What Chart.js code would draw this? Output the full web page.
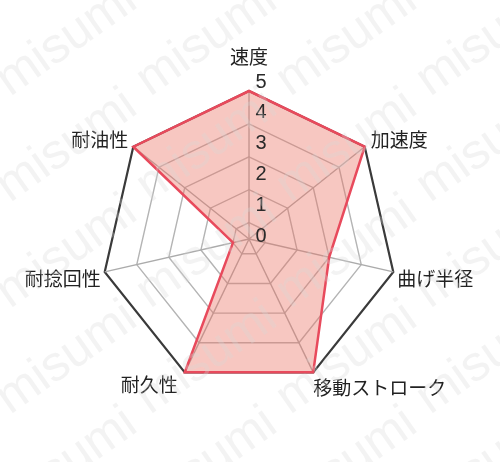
<!DOCTYPE html>
<html lang="ja">
<head>
<meta charset="utf-8">
<title>性能レーダーチャート</title>
<script src="https://cdn.jsdelivr.net/npm/chart.js@4.4.1/dist/chart.umd.min.js"></script>
<style>
  html, body { margin: 0; padding: 0; background: #fff; }
  #wrap { width: 500px; height: 462px; position: relative; }
</style>
</head>
<body>
<div id="wrap"><canvas id="radarChart"></canvas></div>
<script>
// 評価項目（上から時計回り）
const categories = ['速度', '加速度', '曲げ半径', '移動ストローク', '耐久性', '耐捻回性', '耐油性'];
// 評価値
const scores = [5, 5, 3, 5, 5, 1, 5];
// 目盛りラベル
const tickLabels = ['0', '1', '2', '3', '4', '5'];
const watermarkText = 'misumi';

const JP_FONT = '"Noto Sans CJK JP", "Noto Sans", sans-serif';

// ラベルの置き方（頂点からのずれ）
const labelPlacement = [
  { dx: 0,  dy: -34, align: 'center' },
  { dx: 6,  dy: -7,  align: 'left' },
  { dx: 4,  dy: 7,   align: 'left' },
  { dx: 0,  dy: 15,  align: 'left' },
  { dx: -7, dy: 12,  align: 'right' },
  { dx: -4, dy: 7,   align: 'right' },
  { dx: -5, dy: -7,  align: 'right' }
];

// 項目名と目盛り数字を描く
const labelPlugin = {
  id: 'radarLabels',
  afterDatasetsDraw(chart) {
    const scale = chart.scales.r;
    const ctx = chart.ctx;
    ctx.save();
    ctx.fillStyle = '#222';
    ctx.textBaseline = 'middle';
    ctx.font = '19px ' + JP_FONT;
    categories.forEach((name, i) => {
      const p = scale.getPointPosition(i, scale.drawingArea);
      const o = labelPlacement[i];
      ctx.textAlign = o.align;
      ctx.fillText(name, p.x + o.dx, p.y + o.dy);
    });

    // 数字は軸の右側に並べる
    ctx.font = '20px "Liberation Sans", Arial, sans-serif';
    ctx.textAlign = 'center';
    ctx.fillStyle = '#2a2a2a';
    const step = (scale.drawingArea + 6) / (tickLabels.length - 1);
    tickLabels.forEach((t, v) => {
      ctx.fillText(t, scale.xCenter + 12, scale.yCenter - 3 - v * step);
    });
    ctx.restore();
  }
};

// 透かし文字
const watermarkPlugin = {
  id: 'watermark',
  afterDraw(chart) {
    const ctx = chart.ctx;
    ctx.save();
    ctx.font = '50px "Liberation Sans", Arial, sans-serif';
    ctx.fillStyle = 'rgba(215, 215, 215, 0.3)';
    ctx.textAlign = 'left';
    ctx.textBaseline = 'alphabetic';
    for (let j = -1; j < 5; j++) {
      for (let i = -1; i < 5; i++) {
        ctx.save();
        ctx.translate(10 + i * 140, 97 + j * 106);
        ctx.rotate(-35 * Math.PI / 180);
        ctx.fillText(watermarkText, 0, 0);
        ctx.restore();
      }
    }
    ctx.restore();
  }
};

const ctx = document.getElementById('radarChart').getContext('2d');
new Chart(ctx, {
  type: 'radar',
  data: {
    labels: categories,
    datasets: [{
      data: scores,
      borderColor: '#e84a5c',
      borderWidth: 2.5,
      backgroundColor: 'rgba(235, 115, 100, 0.4)',
      pointRadius: 0,
      fill: true
    }]
  },
  options: {
    responsive: true,
    maintainAspectRatio: false,
    animation: false,
    layout: { padding: { top: 91, bottom: 74, left: 101, right: 102 } },
    plugins: {
      legend: { display: false },
      tooltip: { enabled: false }
    },
    scales: {
      r: {
        // 原図では「1」の輪が中心のすぐ外にある
        min: 0.5,
        max: 5,
        ticks: { display: false, stepSize: 1 },
        pointLabels: { display: false },
        grid: {
          color: c => c.tick && c.tick.value === 5 ? '#3a3a3a' : '#b4b4b4',
          lineWidth: c => c.tick && c.tick.value === 5 ? 2.2 : 1.4
        },
        angleLines: { color: '#ababab', lineWidth: 1.4 }
      }
    }
  },
  plugins: [labelPlugin, watermarkPlugin]
});
</script>
</body>
</html>
